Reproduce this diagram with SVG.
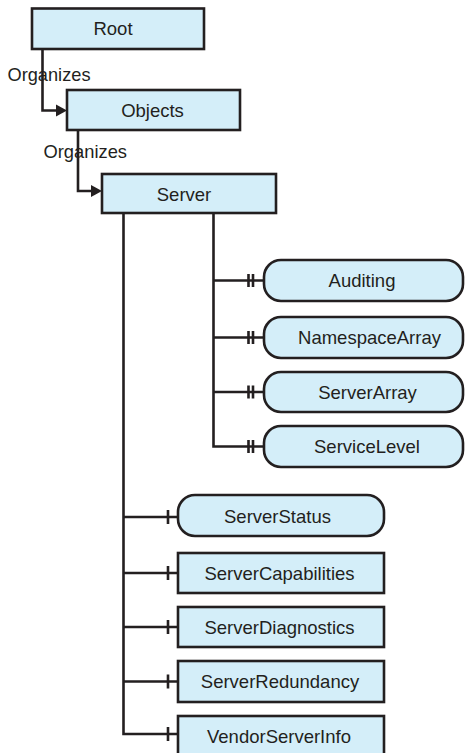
<svg xmlns="http://www.w3.org/2000/svg" width="465" height="753" viewBox="0 0 465 753">
<style>
.box{fill:#d4eef9;stroke:#231f20;stroke-width:2.6}
.rb{rx:17px;ry:17px}
.t{font-family:"Liberation Sans",Arial,sans-serif;font-size:18.5px;fill:#231f20;text-anchor:middle}
.lbl{font-family:"Liberation Sans",Arial,sans-serif;font-size:19px;fill:#231f20}
.ln{fill:none;stroke:#231f20;stroke-width:2.6}
.bar{stroke:#231f20;stroke-width:2.6}
.ah{fill:#231f20}
</style>
<rect width="465" height="753" fill="#ffffff"/>
<g id="connectors">
<path class="ln" d="M42.5,49 V110.5 H58"/>
<polygon class="ah" points="56,104.5 67,110.5 56,116.5"/>
<path class="ln" d="M78,130 V191 H93"/>
<polygon class="ah" points="91,185 102,191 91,197"/>
<path class="ln" d="M213.5,213 V446.5 M212.2,280.5 H264 M212.2,337.5 H264 M212.2,392 H264 M212.2,446.5 H264"/>
<path class="bar" d="M248.5,274 V287 M253,274 V287 M248.5,331 V344 M253,331 V344 M248.5,385.5 V398.5 M253,385.5 V398.5 M248.5,440 V453 M253,440 V453"/>
<path class="ln" d="M123.5,213 V734 M122.2,517 H178 M122.2,573 H178 M122.2,627 H178 M122.2,681.5 H178 M122.2,734 H178"/>
<path class="bar" d="M168,510 V524 M168,566 V580 M168,620 V634 M168,674.5 V688.5 M168,727 V741"/>
<text class="lbl" x="7.5" y="80.5" textLength="83" lengthAdjust="spacingAndGlyphs">Organizes</text>
<text class="lbl" x="43.5" y="158.3" textLength="83.5" lengthAdjust="spacingAndGlyphs">Organizes</text>
</g>
<g id="root"><rect class="box" x="32" y="8.5" width="172" height="40.5"/><text class="t" x="113" y="35.3">Root</text></g>
<g id="objects"><rect class="box" x="67" y="90" width="173" height="40"/><text class="t" x="152.5" y="116.5">Objects</text></g>
<g id="server"><rect class="box" x="102" y="174" width="174" height="39"/><text class="t" x="184" y="200.5">Server</text></g>
<g id="auditing"><rect class="box" x="264" y="260" width="199" height="41" rx="17" ry="17"/><text class="t" x="362" y="287">Auditing</text></g>
<g id="namespacearray"><rect class="box" x="264" y="317" width="199" height="41" rx="17" ry="17"/><text class="t" x="369.5" y="344">NamespaceArray</text></g>
<g id="serverarray"><rect class="box" x="264" y="372" width="199" height="40" rx="17" ry="17"/><text class="t" x="367.5" y="398.5">ServerArray</text></g>
<g id="servicelevel"><rect class="box" x="264" y="426" width="199" height="41" rx="17" ry="17"/><text class="t" x="367" y="453">ServiceLevel</text></g>
<g id="serverstatus"><rect class="box" x="178" y="495" width="206" height="41" rx="17" ry="17"/><text class="t" x="277.5" y="522.5">ServerStatus</text></g>
<g id="servercapabilities"><rect class="box" x="178" y="553" width="206" height="40"/><text class="t" x="279.5" y="579.5">ServerCapabilities</text></g>
<g id="serverdiagnostics"><rect class="box" x="178" y="607" width="206" height="40"/><text class="t" x="279.5" y="633.5">ServerDiagnostics</text></g>
<g id="serverredundancy"><rect class="box" x="178" y="661" width="206" height="41"/><text class="t" x="280" y="688">ServerRedundancy</text></g>
<g id="vendorserverinfo"><rect class="box" x="178" y="716" width="206" height="42"/><text class="t" x="279" y="743">VendorServerInfo</text></g>
</svg>
